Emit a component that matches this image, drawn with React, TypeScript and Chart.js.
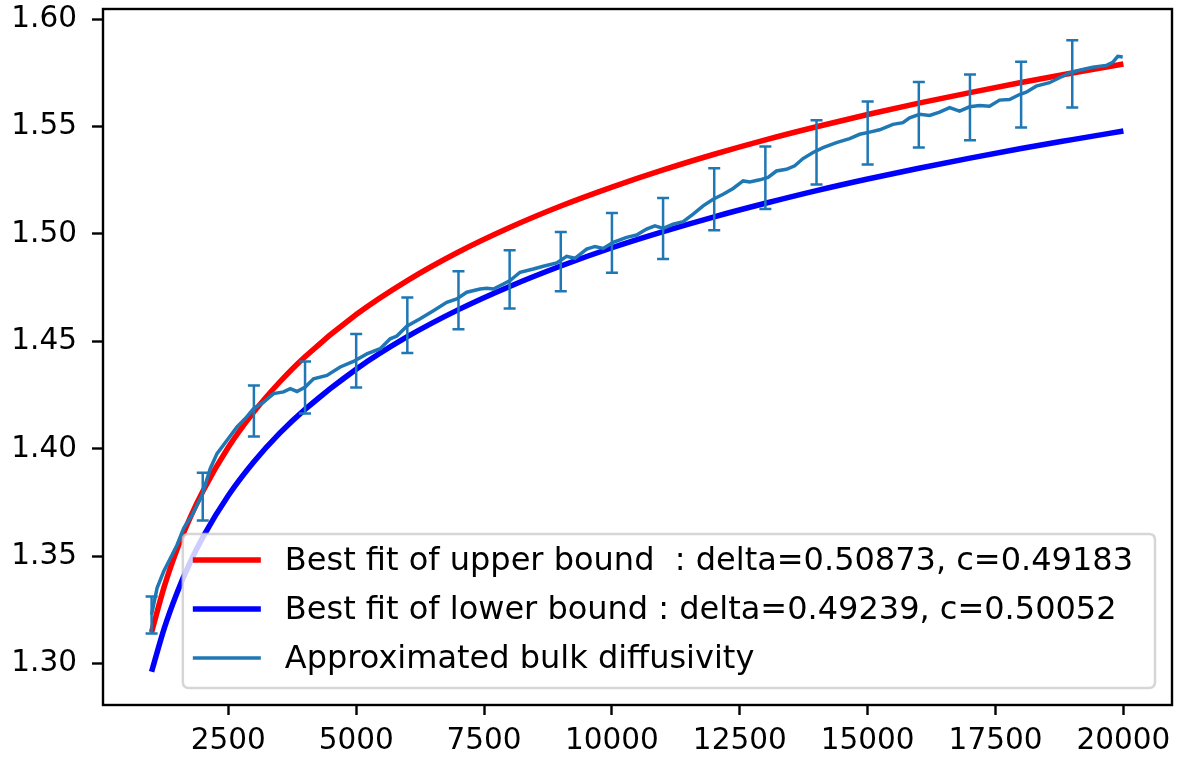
import { useEffect, useRef } from "react";
import { Chart, registerables } from "chart.js";

Chart.register(...registerables);

// Fitted curves
const fitX = [1000, 1250, 1500, 1750, 2000, 2500, 3000, 3500, 4000, 5000, 6000, 7000, 8000, 9000, 10000, 11000, 12000, 13000, 14000, 15000, 16000, 17000, 18000, 19000, 20000];
const upperFit = [1.3147, 1.3361, 1.3534, 1.3678, 1.3802, 1.4007, 1.4172, 1.4310, 1.4429, 1.4625, 1.4783, 1.4916, 1.5030, 1.5130, 1.5218, 1.5298, 1.5371, 1.5438, 1.5499, 1.5556, 1.5609, 1.5658, 1.5705, 1.5749, 1.5791];
const lowerFit = [1.2963, 1.3167, 1.3332, 1.3470, 1.3588, 1.3783, 1.3940, 1.4072, 1.4184, 1.4371, 1.4522, 1.4648, 1.4756, 1.4851, 1.4936, 1.5011, 1.5080, 1.5143, 1.5202, 1.5256, 1.5306, 1.5353, 1.5398, 1.5439, 1.5479];

// Approximated bulk diffusivity (traced)
const diffX = [1000, 1107, 1236, 1367, 1498, 1627, 1791, 1986, 2148, 2279, 2475, 2670, 2832, 2994, 3190, 3385, 3580, 3711, 3842, 4004, 4166, 4428, 4688, 4947, 5209, 5469, 5664, 5795, 5990, 6250, 6510, 6771, 6967, 7162, 7422, 7553, 7682, 7877, 8008, 8203, 8463, 8658, 8920, 9115, 9277, 9506, 9668, 9830, 10025, 10287, 10482, 10677, 10840, 11002, 11197, 11393, 11588, 11783, 11979, 12174, 12369, 12565, 12695, 12891, 13053, 13216, 13412, 13574, 13736, 13932, 14127, 14389, 14648, 14844, 15039, 15234, 15494, 15689, 15820, 16016, 16211, 16406, 16602, 16797, 16992, 17188, 17383, 17578, 17773, 17969, 18100, 18295, 18555, 18750, 18945, 19141, 19401, 19661, 19791, 19889, 19986];
const diffY = [1.3228, 1.3352, 1.3429, 1.3491, 1.3553, 1.3630, 1.3692, 1.3785, 1.3909, 1.3978, 1.4040, 1.4102, 1.4141, 1.4187, 1.4218, 1.4257, 1.4265, 1.4280, 1.4267, 1.4288, 1.4326, 1.4342, 1.4381, 1.4407, 1.4442, 1.4466, 1.4512, 1.4525, 1.4571, 1.4605, 1.4643, 1.4682, 1.4698, 1.4729, 1.4744, 1.4747, 1.4744, 1.4767, 1.4783, 1.4822, 1.4837, 1.4850, 1.4865, 1.4896, 1.4887, 1.4930, 1.4942, 1.4933, 1.4961, 1.4984, 1.4995, 1.5023, 1.5038, 1.5026, 1.5046, 1.5057, 1.5092, 1.5131, 1.5162, 1.5185, 1.5212, 1.5247, 1.5242, 1.5252, 1.5263, 1.5293, 1.5301, 1.5317, 1.5351, 1.5379, 1.5402, 1.5425, 1.5444, 1.5464, 1.5474, 1.5485, 1.5510, 1.5518, 1.5541, 1.5557, 1.5552, 1.5567, 1.5588, 1.5572, 1.5592, 1.5598, 1.5595, 1.5623, 1.5626, 1.5649, 1.5660, 1.5688, 1.5704, 1.5727, 1.5750, 1.5762, 1.5776, 1.5784, 1.5799, 1.5827, 1.5824];

// Error bars
const errX = [1000, 2000, 3000, 4000, 5000, 6000, 7000, 8000, 9000, 10000, 11000, 12000, 13000, 14000, 15000, 16000, 17000, 18000, 19000];
const errHigh = [1.3313, 1.3889, 1.4295, 1.4407, 1.4534, 1.4704, 1.4826, 1.4924, 1.5009, 1.5098, 1.5168, 1.5306, 1.5407, 1.5529, 1.5617, 1.5707, 1.5742, 1.5801, 1.5902];
const errLow = [1.3141, 1.3667, 1.4057, 1.4164, 1.4286, 1.4446, 1.4557, 1.4653, 1.4734, 1.4820, 1.4883, 1.5017, 1.5116, 1.5230, 1.5323, 1.5402, 1.5436, 1.5496, 1.5589];

const xTicks = [2500, 5000, 7500, 10000, 12500, 15000, 17500, 20000];
const yTicks = [1.3, 1.35, 1.4, 1.45, 1.5, 1.55, 1.6];

const upperLabel = "Best fit of upper bound  : delta=0.50873, c=0.49183";
const lowerLabel = "Best fit of lower bound : delta=0.49239, c=0.50052";
const diffLabel = "Approximated bulk diffusivity";

const FONT = "'DejaVu Sans', sans-serif";
const TICK_SIZE = 29.5;
const LEGEND_SIZE = 32;

const errorBarPlugin = {
  id: "errorBars",
  afterDatasetsDraw(chart: any) {
    const { ctx, scales, chartArea } = chart;
    const xs = scales.x;
    const ys = scales.y;
    ctx.save();
    ctx.beginPath();
    ctx.rect(chartArea.left, chartArea.top, chartArea.width, chartArea.height);
    ctx.clip();
    ctx.strokeStyle = "#1f77b4";
    ctx.lineWidth = 2.5;
    const cap = 6;
    errX.forEach((xv, i) => {
      const px = xs.getPixelForValue(xv);
      const t = ys.getPixelForValue(errHigh[i]);
      const b = ys.getPixelForValue(errLow[i]);
      ctx.beginPath();
      ctx.moveTo(px, t);
      ctx.lineTo(px, b);
      ctx.moveTo(px - cap, t);
      ctx.lineTo(px + cap, t);
      ctx.moveTo(px - cap, b);
      ctx.lineTo(px + cap, b);
      ctx.stroke();
    });
    ctx.restore();
  },
  afterDraw(chart: any) {
    const { ctx, chartArea } = chart;
    // frame
    ctx.save();
    ctx.strokeStyle = "#000";
    ctx.lineWidth = 2.4;
    ctx.strokeRect(chartArea.left, chartArea.top, chartArea.width, chartArea.height);

    // legend
    const ds = chart.data.datasets;
    const order = [2, 1, 0].map((o) => ds.find((d: any) => d.legendOrder === o)).filter(Boolean);
    ctx.font = `${LEGEND_SIZE}px ${FONT}`;
    const maxW = Math.max(...order.map((d: any) => ctx.measureText(d.label).width));
    const right = chartArea.right - 17;
    const bottom = chartArea.bottom - 17;
    const handle = 68;
    const padL = 10;
    const gap = 24;
    const padR = 22;
    const w = padL + handle + gap + maxW + padR;
    const h = 154;
    const left = right - w;
    const top = bottom - h;
    const r = 6;
    ctx.beginPath();
    ctx.moveTo(left + r, top);
    ctx.lineTo(right - r, top);
    ctx.quadraticCurveTo(right, top, right, top + r);
    ctx.lineTo(right, bottom - r);
    ctx.quadraticCurveTo(right, bottom, right - r, bottom);
    ctx.lineTo(left + r, bottom);
    ctx.quadraticCurveTo(left, bottom, left, bottom - r);
    ctx.lineTo(left, top + r);
    ctx.quadraticCurveTo(left, top, left + r, top);
    ctx.closePath();
    ctx.fillStyle = "rgba(255,255,255,0.8)";
    ctx.fill();
    ctx.strokeStyle = "rgba(204,204,204,0.8)";
    ctx.lineWidth = 2.5;
    ctx.stroke();

    const rows = [26, 75, 124];
    order.forEach((d: any, i: number) => {
      const cy = top + rows[i];
      ctx.beginPath();
      ctx.strokeStyle = d.borderColor;
      ctx.lineWidth = d.borderWidth;
      ctx.moveTo(left + padL, cy);
      ctx.lineTo(left + padL + handle, cy);
      ctx.stroke();
      ctx.fillStyle = "#000";
      ctx.textBaseline = "middle";
      ctx.textAlign = "left";
      ctx.fillText(d.label, left + padL + handle + gap, cy + 2);
    });
    ctx.restore();
  },
};

export default function App() {
  const ref = useRef<HTMLCanvasElement | null>(null);

  useEffect(() => {
    document.body.style.margin = "0";
    const canvas = ref.current;
    if (!canvas) return;
    const chart = new Chart(canvas, {
      type: "line",
      data: {
        datasets: [
          {
            label: diffLabel,
            legendOrder: 0,
            data: diffX.map((x, i) => ({ x, y: diffY[i] })),
            borderColor: "#1f77b4",
            borderWidth: 3.5,
            pointRadius: 0,
            tension: 0,
            fill: false,
            order: 0,
          } as any,
          {
            label: lowerLabel,
            legendOrder: 1,
            data: fitX.map((x, i) => ({ x, y: lowerFit[i] })),
            borderColor: "#0000ff",
            borderWidth: 5.5,
            pointRadius: 0,
            cubicInterpolationMode: "monotone",
            fill: false,
            order: 1,
          } as any,
          {
            label: upperLabel,
            legendOrder: 2,
            data: fitX.map((x, i) => ({ x, y: upperFit[i] })),
            borderColor: "#ff0000",
            borderWidth: 5.5,
            pointRadius: 0,
            cubicInterpolationMode: "monotone",
            fill: false,
            order: 2,
          } as any,
        ],
      },
      options: {
        animation: false,
        responsive: false,
        devicePixelRatio: 1,
        layout: { padding: { top: 9, right: 9, left: 0, bottom: 0 } },
        plugins: {
          legend: { display: false },
          tooltip: { enabled: false },
        },
        scales: {
          x: {
            type: "linear",
            min: 50,
            max: 20950,
            afterBuildTicks: (scale: any) => {
              scale.ticks = xTicks.map((v) => ({ value: v }));
            },
            afterFit: (scale: any) => {
              scale.height = 53;
              scale.paddingLeft = 0;
              scale.paddingRight = 0;
              scale.paddingTop = 0;
              scale.paddingBottom = 0;
            },
            grid: {
              display: true,
              drawOnChartArea: false,
              drawTicks: true,
              tickLength: 10,
              tickWidth: 2.4,
              tickColor: "#000",
            },
            border: { display: false },
            ticks: {
              autoSkip: false,
              maxRotation: 0,
              padding: 9,
              color: "#000",
              font: { family: FONT, size: TICK_SIZE },
              callback: (v: any) => String(v),
            },
          },
          y: {
            type: "linear",
            min: 1.2808,
            max: 1.6047,
            afterBuildTicks: (scale: any) => {
              scale.ticks = yTicks.map((v) => ({ value: v }));
            },
            afterFit: (scale: any) => {
              scale.width = 103;
              scale.paddingLeft = 0;
              scale.paddingRight = 0;
              scale.paddingTop = 0;
              scale.paddingBottom = 0;
            },
            grid: {
              display: true,
              drawOnChartArea: false,
              drawTicks: true,
              tickLength: 11,
              tickWidth: 2.4,
              tickColor: "#000",
            },
            border: { display: false },
            ticks: {
              autoSkip: false,
              padding: 15,
              color: "#000",
              font: { family: FONT, size: TICK_SIZE },
              callback: (v: any) => Number(v).toFixed(2),
            },
          },
        },
      },
      plugins: [errorBarPlugin],
    } as any);
    return () => chart.destroy();
  }, []);

  return (
    <div style={{ width: 1181, height: 758, background: "#fff" }}>
      <canvas ref={ref} width={1181} height={758} style={{ display: "block", width: 1181, height: 758 }} />
    </div>
  );
}
